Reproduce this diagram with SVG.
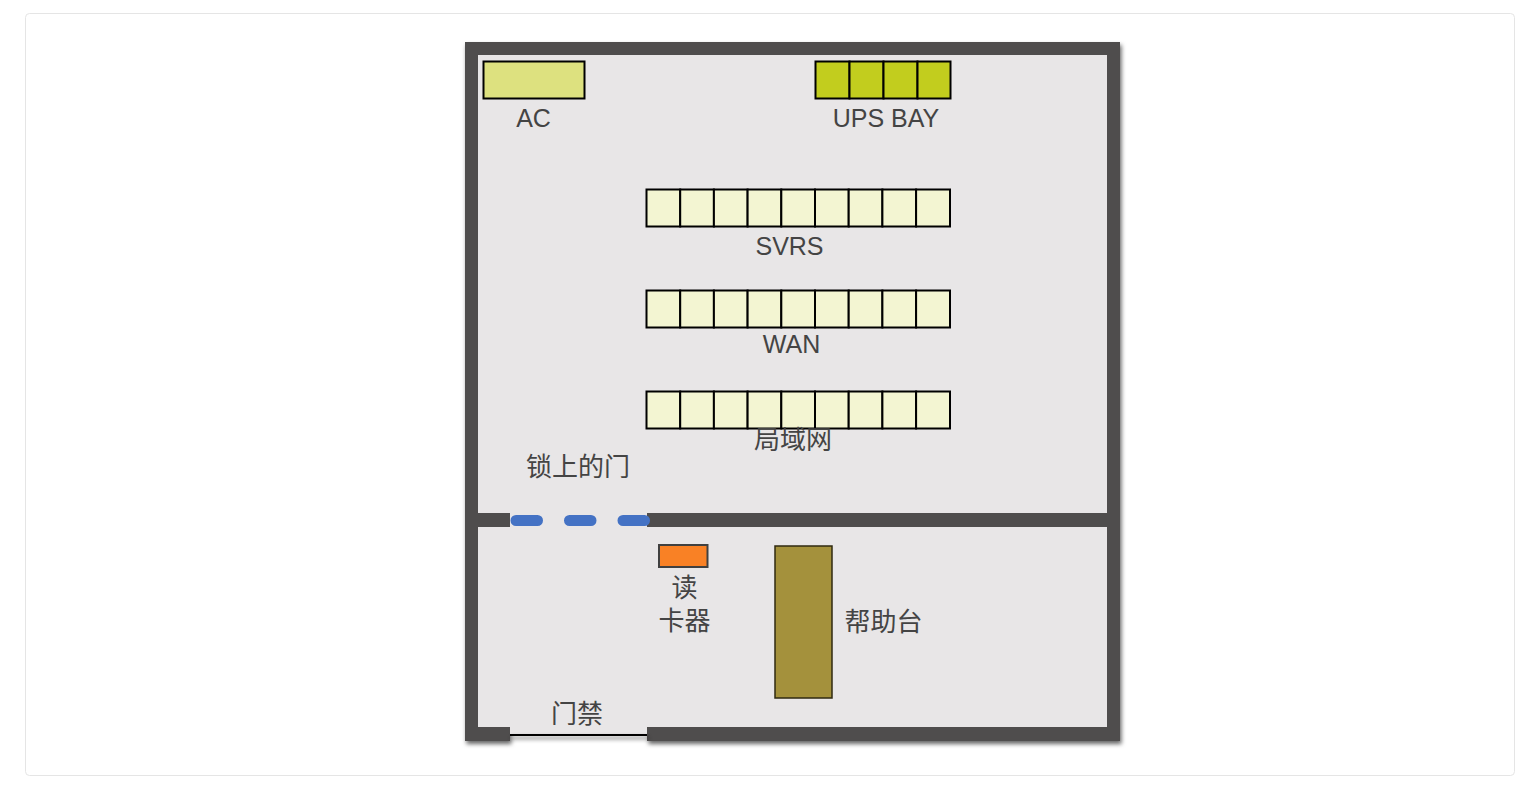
<svg xmlns="http://www.w3.org/2000/svg" width="1533" height="801" viewBox="0 0 1533 801">
<defs>
<filter id="sh" filterUnits="userSpaceOnUse" x="440" y="20" width="700" height="750"><feDropShadow dx="1.5" dy="3" stdDeviation="2" flood-color="#000" flood-opacity="0.6"/></filter>
</defs>
<style>
text{font-family:"Liberation Sans","Noto Sans CJK SC",sans-serif;font-size:25px;fill:#444;text-anchor:middle}
text.z{font-family:"Noto Sans CJK SC","Noto Sans",sans-serif;font-size:26px}
.wall{fill:#4f4d4d}
.c{fill:#f3f5d2;stroke:#000;stroke-width:2}
.u{fill:#c2cd1e;stroke:#000;stroke-width:2}
.dash{fill:none;stroke:#4472c4;stroke-width:11;stroke-linecap:round}
</style>
<rect width="1533" height="801" fill="#fff"/>
<rect x="25.5" y="13.5" width="1489" height="762" rx="4" fill="#fff" stroke="#e5e5e5"/>
<g id="room">
<path class="wall" filter="url(#sh)" fill-rule="evenodd" d="M465 42H1120V741H647V727H1107V55H478V727H510V741H465Z"/>
<rect x="478" y="55" width="629" height="672" fill="#e8e6e7"/>
<rect x="510" y="727" width="137" height="7" fill="#e8e6e7"/>
<rect x="510" y="734" width="137" height="2" fill="#000" filter="url(#sh)"/>
<rect class="wall" x="478" y="513" width="32" height="14"/>
<rect class="wall" x="647" y="513" width="460" height="14"/>
</g>
<g id="locked-door">
<path class="dash" d="M516 520.500H537.500M569.500 520.500H591M623 520.500H644.500"/>
<text class="z" x="578" y="476">锁上的门</text>
</g>
<g id="ac">
<rect x="483.500" y="61.500" width="101" height="37" fill="#dde17f" stroke="#000" stroke-width="2"/>
<text x="533.500" y="127">AC</text>
</g>
<g id="ups-bay">
<rect class="u" x="815.500" y="61.500" width="34" height="37"/><rect class="u" x="849.500" y="61.500" width="34" height="37"/><rect class="u" x="883.500" y="61.500" width="34" height="37"/><rect class="u" x="917.500" y="61.500" width="33" height="37"/>
<text x="886" y="127">UPS BAY</text>
</g>
<g id="svrs">
<rect class="c" x="646.500" y="189.500" width="33.700" height="37"/><rect class="c" x="680.200" y="189.500" width="33.700" height="37"/><rect class="c" x="713.900" y="189.500" width="33.700" height="37"/><rect class="c" x="747.600" y="189.500" width="33.700" height="37"/><rect class="c" x="781.300" y="189.500" width="33.700" height="37"/><rect class="c" x="815" y="189.500" width="33.700" height="37"/><rect class="c" x="848.700" y="189.500" width="33.700" height="37"/><rect class="c" x="882.400" y="189.500" width="33.700" height="37"/><rect class="c" x="916.100" y="189.500" width="33.900" height="37"/>
<text x="789.500" y="255">SVRS</text>
</g>
<g id="wan">
<rect class="c" x="646.500" y="290.500" width="33.700" height="37"/><rect class="c" x="680.200" y="290.500" width="33.700" height="37"/><rect class="c" x="713.900" y="290.500" width="33.700" height="37"/><rect class="c" x="747.600" y="290.500" width="33.700" height="37"/><rect class="c" x="781.300" y="290.500" width="33.700" height="37"/><rect class="c" x="815" y="290.500" width="33.700" height="37"/><rect class="c" x="848.700" y="290.500" width="33.700" height="37"/><rect class="c" x="882.400" y="290.500" width="33.700" height="37"/><rect class="c" x="916.100" y="290.500" width="33.900" height="37"/>
<text x="791.500" y="353">WAN</text>
</g>
<g id="lan">
<rect class="c" x="646.500" y="391.500" width="33.700" height="37"/><rect class="c" x="680.200" y="391.500" width="33.700" height="37"/><rect class="c" x="713.900" y="391.500" width="33.700" height="37"/><rect class="c" x="747.600" y="391.500" width="33.700" height="37"/><rect class="c" x="781.300" y="391.500" width="33.700" height="37"/><rect class="c" x="815" y="391.500" width="33.700" height="37"/><rect class="c" x="848.700" y="391.500" width="33.700" height="37"/><rect class="c" x="882.400" y="391.500" width="33.700" height="37"/><rect class="c" x="916.100" y="391.500" width="33.900" height="37"/>
<text class="z" x="793" y="449">局域网</text>
</g>
<g id="card-reader">
<rect x="659" y="545" width="48.500" height="22" fill="#f98125" stroke="#404040" stroke-width="2"/>
<text class="z" x="684.500" y="597"><tspan x="684.500">读</tspan><tspan x="684.500" dy="33">卡器</tspan></text>
</g>
<g id="help-desk">
<rect x="775" y="546" width="57" height="152" fill="#a4913c" stroke="#2f2a10" stroke-width="1.500"/>
<text class="z" x="883.500" y="631">帮助台</text>
</g>
<g id="access-door">
<text class="z" x="577" y="723">门禁</text>
</g>
<g id="connectors"/>
</svg>
